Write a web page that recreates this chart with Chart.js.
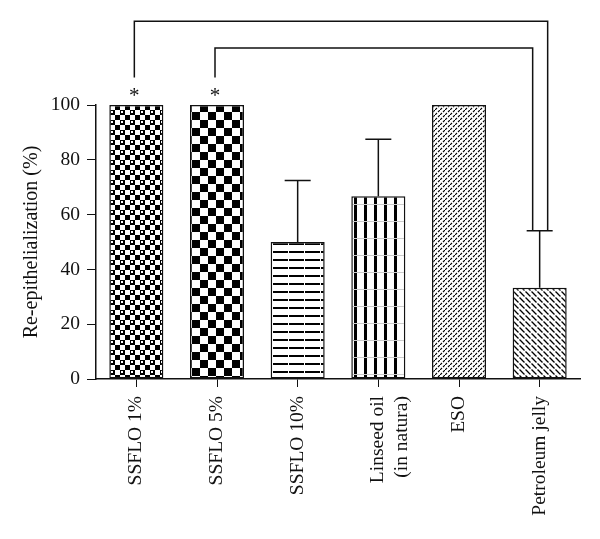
<!DOCTYPE html>
<html>
<head>
<meta charset="utf-8">
<script src="https://cdn.jsdelivr.net/npm/chart.js@4/dist/chart.umd.min.js"></script>
<style>
  html, body { margin: 0; padding: 0; background: #fff; }
</style>
</head>
<body>
<canvas id="chart" width="600" height="539"></canvas>
<script>
"use strict";

// Datos
const labels = ["SSFLO 1%", "SSFLO 5%", "SSFLO 10%", ["Linseed oil", "(in natura)"], "ESO", "Petroleum jelly"];
const values = [100, 100, 50, 66.7, 100, 33.3];
const errorTops = [null, null, 72.4, 87.5, null, 54.1];
const starred = [0, 1];
const comparisons = [[0, 5], [1, 5]];
const bracketTops = [130.6, 120.8];
const yTicks = [0, 20, 40, 60, 80, 100];

const FONT = "'Liberation Serif', 'Times New Roman', serif";

function makePattern(w, h, draw) {
  const c = document.createElement("canvas");
  c.width = w;
  c.height = h;
  const g = c.getContext("2d");
  g.fillStyle = "#fff";
  g.fillRect(0, 0, w, h);
  g.fillStyle = "#000";
  g.strokeStyle = "#000";
  draw(g, w, h);
  return g.createPattern(c, "repeat");
}

// Tramas de cada barra
const patterns = [
  // cuadros finos
  makePattern(10, 10, (g) => {
    g.fillRect(0, 0, 5, 5);
    g.fillRect(5, 5, 5, 5);
    g.fillStyle = "#fff";
    g.fillRect(1, 1, 2, 2);
  }),
  // cuadros grandes
  makePattern(16, 16, (g) => {
    g.fillRect(0, 0, 8, 8);
    g.fillRect(8, 8, 8, 8);
  }),
  // líneas horizontales
  makePattern(16, 8, (g) => {
    g.fillRect(0, 3, 16, 2);
    g.fillStyle = "#fff";
    g.fillRect(0, 0, 1, 8);
  }),
  // líneas verticales
  makePattern(10, 17, (g) => {
    g.fillRect(4, 0, 3, 17);
    g.fillStyle = "#ccc";
    g.fillRect(0, 0, 10, 1);
  }),
  // diagonal "/" densa
  makePattern(5, 5, (g) => {
    g.lineWidth = 1.1;
    g.beginPath();
    g.moveTo(-1, 6); g.lineTo(2, 3);
    g.moveTo(3, 2); g.lineTo(6, -1);
    g.stroke();
  }),
  // diagonal "\"
  makePattern(6, 6, (g) => {
    g.lineWidth = 1.3;
    g.beginPath();
    g.moveTo(-1, -1); g.lineTo(2.5, 2.5);
    g.moveTo(3.5, 3.5); g.lineTo(7, 7);
    g.moveTo(5, -1); g.lineTo(7, 1);
    g.moveTo(-1, 5); g.lineTo(1, 7);
    g.stroke();
  }),
];

const annotate = {
  id: "annotate",
  afterDatasetsDraw(chart) {
    const { ctx, scales: { y } } = chart;
    const meta = chart.getDatasetMeta(0);
    ctx.save();
    ctx.strokeStyle = "#111";
    ctx.lineWidth = 1.5;

    // barras de error
    errorTops.forEach((top, i) => {
      if (top == null) return;
      const bx = meta.data[i].x;
      const y0 = y.getPixelForValue(values[i]);
      const y1 = y.getPixelForValue(top);
      ctx.beginPath();
      ctx.moveTo(bx, y0);
      ctx.lineTo(bx, y1);
      ctx.moveTo(bx - 13, y1);
      ctx.lineTo(bx + 13, y1);
      ctx.stroke();
    });

    // corchetes de comparación
    const rightShift = [8, -7];
    comparisons.forEach(([a, b], k) => {
      const xa = meta.data[a].x - 2;
      const xb = meta.data[b].x + rightShift[k];
      const yTop = y.getPixelForValue(bracketTops[k]);
      const yLeft = y.getPixelForValue(110);
      const yRight = y.getPixelForValue(errorTops[b]);
      ctx.beginPath();
      ctx.moveTo(xa, yLeft);
      ctx.lineTo(xa, yTop);
      ctx.lineTo(xb, yTop);
      ctx.lineTo(xb, yRight);
      ctx.stroke();
    });

    // asteriscos
    ctx.fillStyle = "#111";
    ctx.font = "21px " + FONT;
    ctx.textAlign = "center";
    ctx.textBaseline = "alphabetic";
    starred.forEach((i) => {
      ctx.fillText("*", meta.data[i].x - 2, y.getPixelForValue(104.7) + 10);
    });
    ctx.restore();
  },
};

new Chart(document.getElementById("chart").getContext("2d"), {
  type: "bar",
  data: {
    labels: labels,
    datasets: [
      {
        data: values,
        backgroundColor: patterns,
        borderColor: "#111",
        borderWidth: 1.5,
        borderSkipped: false,
        barPercentage: 0.67,
        categoryPercentage: 1,
      },
    ],
  },
  options: {
    responsive: false,
    animation: false,
    devicePixelRatio: 1,
    layout: { padding: { top: 105, right: 20, left: 0, bottom: 0 } },
    plugins: { legend: { display: false }, tooltip: { enabled: false } },
    scales: {
      x: {
        grid: { offset: false, drawOnChartArea: false, drawTicks: true, tickLength: 8, color: "#111" },
        border: { display: true, color: "#111", width: 1.5 },
        ticks: {
          color: "#111",
          font: { family: FONT, size: 19.5 },
          minRotation: 90,
          maxRotation: 90,
          padding: 9,
          autoSkip: false,
        },
        afterFit(scale) { scale.height = 160; },
      },
      y: {
        min: 0,
        max: 100,
        afterBuildTicks(scale) { scale.ticks = yTicks.map((v) => ({ value: v })); },
        grid: { drawOnChartArea: false, drawTicks: true, tickLength: 9, color: "#111" },
        border: { display: true, color: "#111", width: 1.5 },
        ticks: {
          color: "#111",
          font: { family: FONT, size: 19.5 },
          padding: 7,
        },
        title: {
          display: true,
          text: "Re-epithelialization (%)",
          color: "#111",
          font: { family: FONT, size: 20 },
          padding: { top: 20, bottom: 0 },
        },
        afterFit(scale) { scale.width = 96; },
      },
    },
  },
  plugins: [annotate],
});
</script>
</body>
</html>
